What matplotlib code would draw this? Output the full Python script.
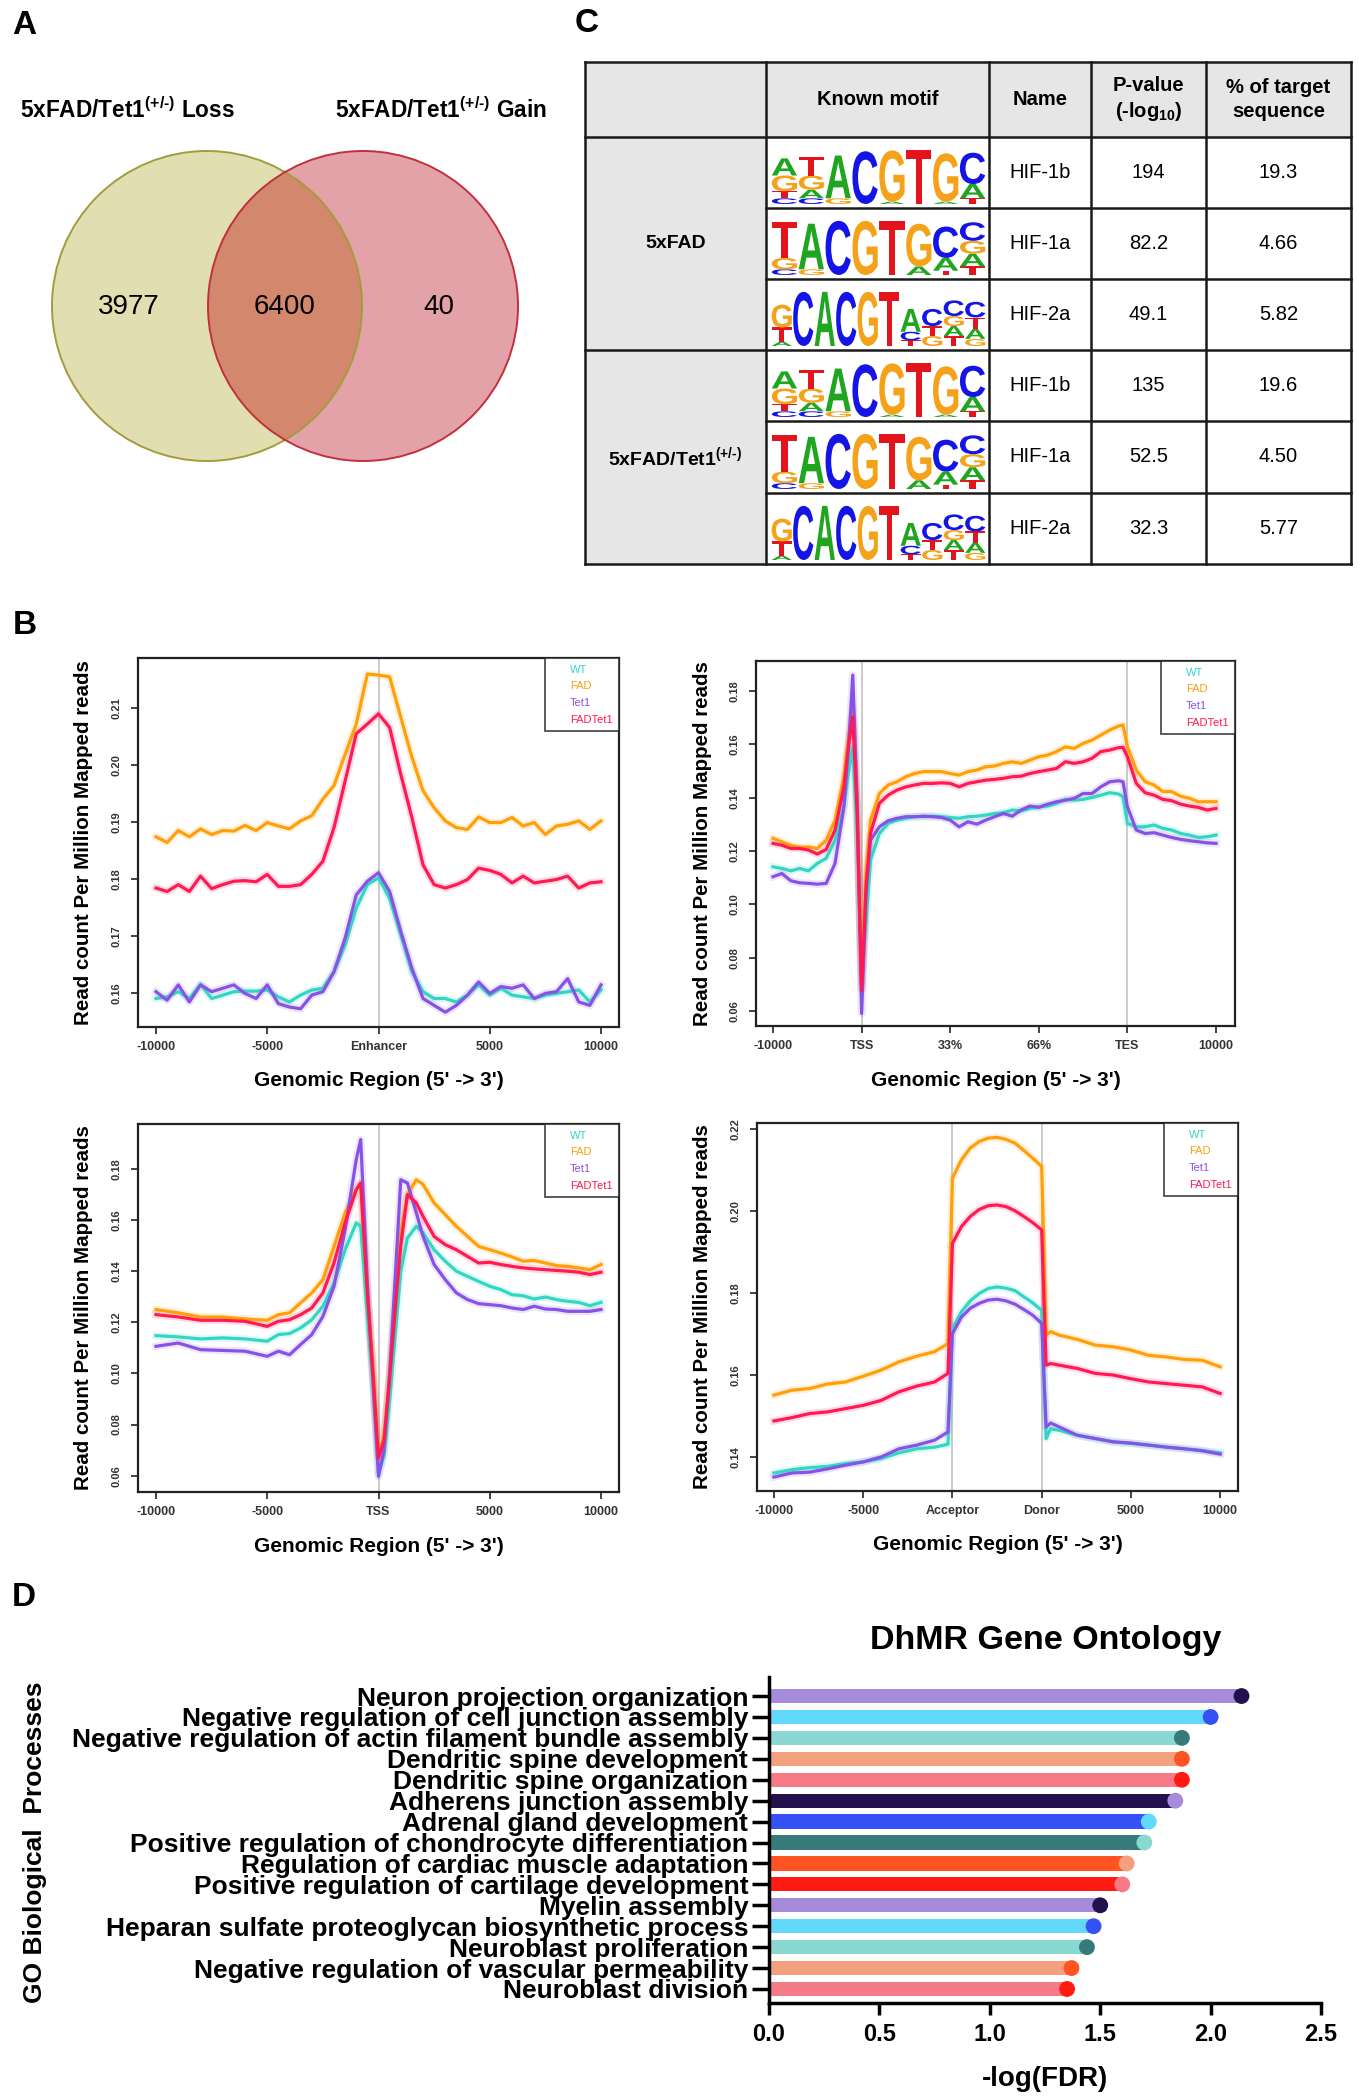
import matplotlib
matplotlib.use('Agg')
import matplotlib.pyplot as plt
from matplotlib.patches import Circle, Rectangle, PathPatch
from matplotlib.textpath import TextPath
from matplotlib.font_manager import FontProperties
from matplotlib.transforms import Affine2D, offset_copy
from matplotlib.lines import Line2D

plt.rcParams['font.family'] = ['Liberation Sans', 'DejaVu Sans']
plt.rcParams['mathtext.fontset'] = 'custom'
plt.rcParams['mathtext.rm'] = 'Liberation Sans'
plt.rcParams['mathtext.bf'] = 'Liberation Sans:bold'
plt.rcParams['mathtext.default'] = 'regular'

# ---------------- data ----------------
VENN_TITLES = ['5xFAD/Tet1$^{(+/\u2010)}$ Loss', '5xFAD/Tet1$^{(+/\u2010)}$ Gain']
VENN_COUNTS = ['3977', '6400', '40']

TABLE_HEADER = ['', 'Known motif', 'Name', 'P-value\n(-log$_{10}$)', '% of target\nsequence']
TABLE_GROUPS = ['5xFAD', '5xFAD/Tet1$^{(+/\u2010)}$']
TABLE_NAMES = ['HIF-1b', 'HIF-1a', 'HIF-2a', 'HIF-1b', 'HIF-1a', 'HIF-2a']
TABLE_PVALUES = ['194', '82.2', '49.1', '135', '52.5', '32.3']
TABLE_PCT = ['19.3', '4.66', '5.82', '19.6', '4.50', '5.77']

LOGO_HIF1B = [
    [('C', 0.20), ('T', 0.25), ('G', 0.55), ('A', 0.60)],
    [('C', 0.20), ('A', 0.30), ('G', 0.50), ('T', 0.65)],
    [('G', 0.20), ('A', 1.50)],
    [('C', 1.85)],
    [('A', 0.08), ('G', 1.80)],
    [('T', 1.90)],
    [('A', 0.08), ('G', 1.70)],
    [('T', 0.20), ('A', 0.50), ('C', 1.10)],
]
LOGO_HIF1A = [
    [('C', 0.20), ('G', 0.40), ('T', 1.25)],
    [('G', 0.20), ('A', 1.60)],
    [('C', 1.90)],
    [('G', 1.90)],
    [('T', 1.90)],
    [('A', 0.30), ('G', 1.50)],
    [('T', 0.15), ('A', 0.45), ('C', 1.10)],
    [('T', 0.30), ('A', 0.45), ('G', 0.45), ('C', 0.65)],
]
LOGO_HIF2A = [
    [('A', 0.15), ('T', 0.50), ('G', 0.80)],
    [('C', 1.90)],
    [('A', 1.90)],
    [('C', 1.90)],
    [('G', 1.90)],
    [('T', 1.90)],
    [('T', 0.20), ('C', 0.30), ('A', 0.80)],
    [('G', 0.35), ('T', 0.35), ('C', 0.60)],
    [('T', 0.35), ('A', 0.35), ('G', 0.35), ('C', 0.55)],
    [('G', 0.25), ('A', 0.35), ('T', 0.40), ('C', 0.55)],
]
TABLE_LOGOS = [LOGO_HIF1B, LOGO_HIF1A, LOGO_HIF2A, LOGO_HIF1B, LOGO_HIF1A, LOGO_HIF2A]

SERIES_NAMES = ['WT', 'FAD', 'Tet1', 'FADTet1']

# Enhancer profile
ENH_X = [-10000, -9500, -9000, -8500, -8000, -7500, -7000, -6500, -6000, -5500, -5000,
         -4500, -4000, -3500, -3000, -2500, -2000, -1500, -1000, -500, 0,
         500, 1000, 1500, 2000, 2500, 3000, 3500, 4000, 4500, 5000,
         5500, 6000, 6500, 7000, 7500, 8000, 8500, 9000, 9500, 10000]
ENH_WT = [0.1590, 0.1593, 0.1602, 0.1590, 0.1615, 0.1590, 0.1596, 0.1602, 0.1603, 0.1603, 0.1605,
          0.1593, 0.1584, 0.1596, 0.1605, 0.1608, 0.1637, 0.1684, 0.1749, 0.1790, 0.1802,
          0.1766, 0.1702, 0.1637, 0.1602, 0.1590, 0.1590, 0.1584, 0.1596, 0.1614, 0.1596,
          0.1608, 0.1596, 0.1593, 0.1590, 0.1596, 0.1599, 0.1602, 0.1605, 0.1584, 0.1605]
ENH_FAD = [0.1874, 0.1864, 0.1885, 0.1874, 0.1888, 0.1878, 0.1885, 0.1884, 0.1894, 0.1885, 0.1899,
           0.1893, 0.1888, 0.1902, 0.1911, 0.1940, 0.1964, 0.2019, 0.2072, 0.2160, 0.2158,
           0.2155, 0.2084, 0.2014, 0.1955, 0.1925, 0.1902, 0.1890, 0.1887, 0.1909, 0.1899,
           0.1899, 0.1908, 0.1893, 0.1899, 0.1878, 0.1893, 0.1896, 0.1902, 0.1887, 0.1902]
ENH_TET1 = [0.1602, 0.1587, 0.1614, 0.1584, 0.1614, 0.1602, 0.1608, 0.1614, 0.1599, 0.1590, 0.1614,
            0.1581, 0.1575, 0.1572, 0.1596, 0.1602, 0.1637, 0.1696, 0.1772, 0.1796, 0.1811,
            0.1778, 0.1708, 0.1643, 0.1590, 0.1578, 0.1566, 0.1578, 0.1596, 0.1619, 0.1599,
            0.1611, 0.1608, 0.1614, 0.1590, 0.1599, 0.1602, 0.1625, 0.1584, 0.1578, 0.1614]
ENH_FADTET1 = [0.1784, 0.1778, 0.1790, 0.1778, 0.1805, 0.1783, 0.1790, 0.1796, 0.1797, 0.1795, 0.1808,
               0.1787, 0.1787, 0.1790, 0.1808, 0.1831, 0.1890, 0.1972, 0.2055, 0.2072, 0.2090,
               0.2066, 0.1984, 0.1908, 0.1825, 0.1790, 0.1784, 0.1790, 0.1799, 0.1819, 0.1815,
               0.1808, 0.1793, 0.1805, 0.1793, 0.1796, 0.1799, 0.1805, 0.1784, 0.1793, 0.1795]

# Gene body profile (0=-10000, 1=TSS, 2=33%, 3=66%, 4=TES, 5=+10000)
GENE_X = [0, 0.1, 0.2, 0.3, 0.4, 0.5, 0.6, 0.7, 0.8, 0.85, 0.9, 0.95, 1.0, 1.05,
          1.1, 1.2, 1.3, 1.4, 1.5, 1.6, 1.7, 1.8, 1.9, 2.0, 2.1, 2.2, 2.3, 2.4, 2.5,
          2.6, 2.7, 2.8, 2.9, 3.0, 3.1, 3.2, 3.3, 3.4, 3.5, 3.6, 3.7, 3.8, 3.9, 3.95,
          4.0, 4.1, 4.2, 4.3, 4.4, 4.5, 4.6, 4.7, 4.8, 4.9, 5.0]
GENE_WT = [0.1141, 0.1135, 0.1126, 0.1135, 0.1126, 0.1154, 0.1173, 0.1241, 0.1366, 0.1491, 0.1591, 0.1266, 0.0704, 0.0941,
           0.1166, 0.1266, 0.1304, 0.1316, 0.1323, 0.1329, 0.1329, 0.1331, 0.1329, 0.1326, 0.1323, 0.1329, 0.1331, 0.1335, 0.1341,
           0.1344, 0.1354, 0.1351, 0.1360, 0.1366, 0.1369, 0.1379, 0.1394, 0.1391, 0.1394, 0.1401, 0.1410, 0.1419, 0.1414, 0.1404,
           0.1304, 0.1291, 0.1291, 0.1298, 0.1285, 0.1279, 0.1266, 0.1260, 0.1251, 0.1254, 0.1260]
GENE_FAD = [0.1248, 0.1235, 0.1222, 0.1214, 0.1216, 0.1210, 0.1241, 0.1316, 0.1479, 0.1616, 0.1741, 0.1391, 0.0750, 0.1116,
            0.1316, 0.1416, 0.1448, 0.1460, 0.1479, 0.1491, 0.1498, 0.1498, 0.1498, 0.1491, 0.1485, 0.1498, 0.1504, 0.1516, 0.1519,
            0.1529, 0.1535, 0.1529, 0.1541, 0.1554, 0.1560, 0.1573, 0.1591, 0.1585, 0.1604, 0.1616, 0.1635, 0.1654, 0.1669, 0.1673,
            0.1591, 0.1504, 0.1460, 0.1448, 0.1423, 0.1423, 0.1406, 0.1398, 0.1385, 0.1385, 0.1385]
GENE_TET1 = [0.1104, 0.1116, 0.1089, 0.1081, 0.1079, 0.1076, 0.1079, 0.1154, 0.1366, 0.1579, 0.1860, 0.1391, 0.0591, 0.1041,
             0.1241, 0.1291, 0.1314, 0.1323, 0.1329, 0.1329, 0.1331, 0.1329, 0.1326, 0.1316, 0.1291, 0.1310, 0.1301, 0.1316, 0.1329,
             0.1341, 0.1331, 0.1354, 0.1369, 0.1364, 0.1376, 0.1385, 0.1391, 0.1398, 0.1416, 0.1416, 0.1441, 0.1460, 0.1464, 0.1460,
             0.1366, 0.1279, 0.1266, 0.1269, 0.1260, 0.1251, 0.1244, 0.1239, 0.1235, 0.1231, 0.1229]
GENE_FADTET1 = [0.1229, 0.1222, 0.1210, 0.1210, 0.1204, 0.1189, 0.1206, 0.1279, 0.1441, 0.1591, 0.1704, 0.1341, 0.0679, 0.1066,
                0.1266, 0.1379, 0.1410, 0.1429, 0.1441, 0.1448, 0.1454, 0.1454, 0.1456, 0.1454, 0.1441, 0.1454, 0.1460, 0.1466, 0.1469,
                0.1473, 0.1479, 0.1481, 0.1491, 0.1498, 0.1504, 0.1510, 0.1535, 0.1529, 0.1535, 0.1548, 0.1573, 0.1579, 0.1588, 0.1589,
                0.1554, 0.1454, 0.1419, 0.1410, 0.1394, 0.1389, 0.1376, 0.1369, 0.1364, 0.1354, 0.1360]

# TSS profile
TSS_X = [-10000, -9000, -8000, -7000, -6000, -5000, -4500, -4000, -3500, -3000, -2500, -2000, -1500,
         -1000, -800, -500, -250, 0, 250, 500, 800, 1000, 1300, 1700, 2000, 2500, 3000, 3500, 4000,
         4500, 5000, 5500, 6000, 6500, 7000, 7500, 8000, 8500, 9000, 9500, 10000]
TSS_WT = [0.1148, 0.1143, 0.1135, 0.1139, 0.1135, 0.1126, 0.1152, 0.1156, 0.1178, 0.1210, 0.1263, 0.1354, 0.1484,
          0.1589, 0.1576, 0.1230, 0.0950, 0.0610, 0.0680, 0.0900, 0.1200, 0.1400, 0.1530, 0.1576, 0.1550, 0.1484, 0.1439, 0.1400, 0.1380,
          0.1360, 0.1341, 0.1328, 0.1308, 0.1304, 0.1291, 0.1299, 0.1289, 0.1282, 0.1278, 0.1265, 0.1278]
TSS_FAD = [0.1250, 0.1237, 0.1221, 0.1221, 0.1213, 0.1208, 0.1230, 0.1237, 0.1276, 0.1315, 0.1367, 0.1497, 0.1628,
           0.1720, 0.1745, 0.1320, 0.1040, 0.0676, 0.0760, 0.1000, 0.1350, 0.1550, 0.1700, 0.1758, 0.1740, 0.1667, 0.1621, 0.1576, 0.1536,
           0.1497, 0.1484, 0.1471, 0.1456, 0.1439, 0.1442, 0.1432, 0.1422, 0.1419, 0.1413, 0.1406, 0.1426]
TSS_TET1 = [0.1106, 0.1119, 0.1093, 0.1090, 0.1087, 0.1067, 0.1087, 0.1073, 0.1113, 0.1152, 0.1223, 0.1341, 0.1563,
            0.1837, 0.1915, 0.1350, 0.0980, 0.0597, 0.0700, 0.1000, 0.1450, 0.1758, 0.1745, 0.1628, 0.1537, 0.1426, 0.1367, 0.1315, 0.1289,
            0.1273, 0.1269, 0.1265, 0.1256, 0.1250, 0.1263, 0.1252, 0.1250, 0.1243, 0.1243, 0.1243, 0.1250]
TSS_FADTET1 = [0.1230, 0.1221, 0.1208, 0.1208, 0.1204, 0.1184, 0.1204, 0.1210, 0.1230, 0.1256, 0.1315, 0.1432, 0.1589,
               0.1719, 0.1745, 0.1310, 0.1000, 0.0669, 0.0740, 0.0980, 0.1300, 0.1500, 0.1700, 0.1667, 0.1615, 0.1536, 0.1504, 0.1484, 0.1458,
               0.1432, 0.1435, 0.1426, 0.1419, 0.1413, 0.1409, 0.1406, 0.1403, 0.1400, 0.1396, 0.1387, 0.1396]

# Exon profile (0=-10000, 1=-5000, 2=Acceptor, 3=Donor, 4=5000, 5=10000)
EXON_X = [0, 0.2, 0.4, 0.6, 0.8, 1.0, 1.2, 1.4, 1.6, 1.8, 1.95, 2.0, 2.1, 2.2, 2.3, 2.4, 2.5, 2.6, 2.7,
          2.8, 2.9, 3.0, 3.05, 3.1, 3.2, 3.4, 3.6, 3.8, 4.0, 4.2, 4.4, 4.6, 4.8, 5.0]
EXON_WT = [0.1361, 0.1369, 0.1374, 0.1377, 0.1384, 0.1388, 0.1396, 0.1410, 0.1420, 0.1424, 0.1431, 0.1714, 0.1754, 0.1781,
           0.1799, 0.1811, 0.1815, 0.1812, 0.1806, 0.1791, 0.1776, 0.1758, 0.1445, 0.1469, 0.1465, 0.1453, 0.1445, 0.1437,
           0.1433, 0.1429, 0.1424, 0.1420, 0.1416, 0.1410]
EXON_FAD = [0.1551, 0.1563, 0.1567, 0.1578, 0.1583, 0.1597, 0.1612, 0.1632, 0.1646, 0.1657, 0.1677, 0.2080, 0.2125, 0.2154,
            0.2170, 0.2178, 0.2180, 0.2175, 0.2166, 0.2148, 0.2129, 0.2109, 0.1697, 0.1706, 0.1697, 0.1687, 0.1673, 0.1669,
            0.1661, 0.1648, 0.1644, 0.1638, 0.1636, 0.1620]
EXON_TET1 = [0.1351, 0.1361, 0.1363, 0.1371, 0.1380, 0.1388, 0.1400, 0.1420, 0.1429, 0.1441, 0.1461, 0.1701, 0.1741, 0.1763,
             0.1775, 0.1783, 0.1785, 0.1781, 0.1773, 0.1760, 0.1746, 0.1726, 0.1473, 0.1483, 0.1473, 0.1453, 0.1445, 0.1437,
             0.1434, 0.1429, 0.1424, 0.1420, 0.1415, 0.1407]
EXON_FADTET1 = [0.1488, 0.1496, 0.1506, 0.1510, 0.1518, 0.1526, 0.1538, 0.1559, 0.1573, 0.1583, 0.1604, 0.1921, 0.1962, 0.1987,
                0.2004, 0.2013, 0.2015, 0.2011, 0.2001, 0.1987, 0.1972, 0.1954, 0.1624, 0.1628, 0.1624, 0.1616, 0.1604, 0.1600,
                0.1591, 0.1583, 0.1579, 0.1575, 0.1571, 0.1555]

GO_TERMS = ['Neuron projection organization',
            'Negative regulation of cell junction assembly',
            'Negative regulation of actin filament bundle assembly',
            'Dendritic spine development',
            'Dendritic spine organization',
            'Adherens junction assembly',
            'Adrenal gland development',
            'Positive regulation of chondrocyte differentiation',
            'Regulation of cardiac muscle adaptation',
            'Positive regulation of cartilage development',
            'Myelin assembly',
            'Heparan sulfate proteoglycan biosynthetic process',
            'Neuroblast proliferation',
            'Negative regulation of vascular permeability',
            'Neuroblast division']
GO_VALUES = [2.14, 2.00, 1.87, 1.87, 1.87, 1.84, 1.72, 1.70, 1.62, 1.60, 1.50, 1.47, 1.44, 1.37, 1.35]
GO_BAR_COLORS = ['#a78bdb', '#62d8fa', '#8ad8d2', '#f2a07e', '#f67b86',
                 '#23104f', '#3550f5', '#377a7a', '#ff5322', '#ff1b12',
                 '#a78bdb', '#62d8fa', '#8ad8d2', '#f2a07e', '#f67b86']
GO_DOT_COLORS = ['#23104f', '#3550f5', '#377a7a', '#ff5322', '#ff1b12',
                 '#a78bdb', '#62d8fa', '#8ad8d2', '#f2a07e', '#f67b86',
                 '#23104f', '#3550f5', '#377a7a', '#ff5322', '#ff1b12']

# ---------------- styles ----------------
SERIES_COLORS = ['#33d6c3', '#ff9f0a', '#8653e6', '#ff1a53']
LOGO_COLORS = {'A': '#1fa51f', 'C': '#1414e6', 'G': '#f5a21b', 'T': '#e3141b'}
LOGO_FONT = FontProperties(family='Liberation Sans', weight='bold')

W, H = 1358, 2100
fig = plt.figure(figsize=(W / 100, H / 100), dpi=100)
fig.patch.set_facecolor('white')


def add_axes_px(x0, y0, x1, y1):
    return fig.add_axes([x0 / W, 1 - y1 / H, (x1 - x0) / W, (y1 - y0) / H])


ax0 = fig.add_axes([0, 0, 1, 1])
ax0.set_xlim(0, W)
ax0.set_ylim(H, 0)
ax0.axis('off')

# panel letters
for letter, (px, py) in zip('ACBD', [(24, 25), (587, 23), (25, 626), (24, 1598)]):
    ax0.text(px, py, letter, fontsize=24, fontweight='bold', ha='center', va='center')

# ---------------- Panel A: Venn ----------------
left_c = Circle((207, 306), 155, fc='#e1deb1', ec='none', zorder=1)
right_c = Circle((363, 306), 155, fc='#e3a1a8', ec='none', zorder=1)
ax0.add_patch(left_c)
ax0.add_patch(right_c)
inter = Circle((363, 306), 155, fc='#d3886e', ec='none', zorder=2)
ax0.add_patch(inter)
inter.set_clip_path(left_c)
ax0.add_patch(Circle((207, 306), 155, fill=False, ec='#a39c3c', lw=1.4, zorder=3))
ax0.add_patch(Circle((363, 306), 155, fill=False, ec='#c2303e', lw=1.4, zorder=3))
ax0.text(20, 110, VENN_TITLES[0], fontsize=16.3, fontweight='bold', ha='left', va='center')
ax0.text(335, 110, VENN_TITLES[1], fontsize=16.3, fontweight='bold', ha='left', va='center')
for txt, px in zip(VENN_COUNTS, [129, 285, 439]):
    ax0.text(px, 307, txt, fontsize=20, ha='center', va='center', zorder=4)

# ---------------- Panel C: table ----------------
COLS = [585, 766, 989, 1091, 1206, 1351]
ROWS = [62, 137, 208, 279, 350, 421, 493, 564]
GRAY = '#e6e6e6'
ax0.add_patch(Rectangle((COLS[0], ROWS[0]), COLS[-1] - COLS[0], ROWS[1] - ROWS[0], fc=GRAY, ec='none'))
ax0.add_patch(Rectangle((COLS[0], ROWS[1]), COLS[1] - COLS[0], ROWS[-1] - ROWS[1], fc=GRAY, ec='none'))
LC = '#1a1a1a'
for xc in COLS:
    ax0.plot([xc, xc], [ROWS[0], ROWS[-1]], color=LC, lw=1.8, solid_capstyle='projecting')
for i, yr in enumerate(ROWS):
    x_start = COLS[0] if i in (0, 1, 4, 7) else COLS[1]
    ax0.plot([x_start, COLS[-1]], [yr, yr], color=LC, lw=1.8, solid_capstyle='projecting')

hy = (ROWS[0] + ROWS[1]) / 2
for j in range(1, 5):
    ax0.text((COLS[j] + COLS[j + 1]) / 2, hy, TABLE_HEADER[j], fontsize=14.5, fontweight='bold',
             ha='center', va='center', linespacing=1.3)
ax0.text((COLS[0] + COLS[1]) / 2, (ROWS[1] + ROWS[4]) / 2, TABLE_GROUPS[0], fontsize=14,
         fontweight='bold', ha='center', va='center')
ax0.text((COLS[0] + COLS[1]) / 2, (ROWS[4] + ROWS[7]) / 2, TABLE_GROUPS[1], fontsize=14,
         fontweight='bold', ha='center', va='center')
for r in range(6):
    cy = (ROWS[r + 1] + ROWS[r + 2]) / 2
    ax0.text((COLS[2] + COLS[3]) / 2, cy, TABLE_NAMES[r], fontsize=14.5, ha='center', va='center')
    ax0.text((COLS[3] + COLS[4]) / 2, cy, TABLE_PVALUES[r], fontsize=14.5, ha='center', va='center')
    ax0.text((COLS[4] + COLS[5]) / 2, cy, TABLE_PCT[r], fontsize=14.5, ha='center', va='center')


def draw_logo(ax, columns):
    n = len(columns)
    ax.set_xlim(0, n)
    ax.set_ylim(0, 2)
    ax.axis('off')
    for i, col in enumerate(columns):
        y = 0.0
        for letter, h in col:
            tp = TextPath((0, 0), letter, size=1, prop=LOGO_FONT)
            bb = tp.get_extents()
            t = (Affine2D().translate(-bb.x0, -bb.y0)
                 .scale(0.94 / bb.width, h / bb.height)
                 .translate(i + 0.03, y))
            ax.add_patch(PathPatch(t.transform_path(tp), fc=LOGO_COLORS[letter], ec='none'))
            y += h


for r in range(6):
    top = ROWS[r + 1] + 10
    bot = ROWS[r + 2] - 4
    lax = add_axes_px(771, top, 986, bot)
    draw_logo(lax, TABLE_LOGOS[r])

# ---------------- Panel B: profiles ----------------


def profile(box, x, ys, xlim, xticks, xticklabels, vlines, ylim, yticks):
    ax = add_axes_px(*box)
    for v in vlines:
        ax.axvline(v, color='#c8c8c8', lw=1.3, zorder=1)
    for y, c in zip(ys, SERIES_COLORS):
        ax.plot(x, y, color=c, lw=5.5, alpha=0.15, zorder=2)
        ax.plot(x, y, color=c, lw=2.3, zorder=3)
    ax.set_xlim(*xlim)
    ax.set_ylim(*ylim)
    ax.set_xticks(xticks)
    ax.set_xticklabels(xticklabels)
    ax.set_yticks(yticks)
    ax.set_yticklabels(['%.2f' % t for t in yticks])
    ax.tick_params(axis='both', direction='out', length=5, width=1.2, color='#222',
                   labelcolor='#333')
    ax.tick_params(axis='x', pad=5, labelsize=9)
    ax.tick_params(axis='y', labelrotation=90, pad=7, labelsize=8)
    for lab in ax.get_xticklabels() + ax.get_yticklabels():
        lab.set_fontweight('bold')
    for lab in ax.get_yticklabels():
        lab.set_va('center')
    for s in ax.spines.values():
        s.set_linewidth(1.6)
        s.set_color('#222')
    handles = [Line2D([], [], color='none') for _ in SERIES_NAMES]
    leg = ax.legend(handles, SERIES_NAMES, loc='upper right', frameon=True, fancybox=False,
                    edgecolor='#222', borderaxespad=0, handlelength=1.4, handletextpad=0.25,
                    labelspacing=0.6, borderpad=0.6, fontsize=8, labelcolor=SERIES_COLORS)
    leg.get_frame().set_linewidth(1.3)
    ax.text(0.5, 0, "Genomic Region (5' -> 3')",
            transform=offset_copy(ax.transAxes, fig, x=0, y=-54, units='dots'),
            ha='center', va='center', fontsize=15, fontweight='bold')
    ax.text(0, 0.5, 'Read count Per Million Mapped reads',
            transform=offset_copy(ax.transAxes, fig, x=-54, y=0, units='dots'),
            ha='center', va='center', rotation=90, fontsize=14.8, fontweight='bold')
    return ax


profile((138, 658, 619, 1027), ENH_X, [ENH_WT, ENH_FAD, ENH_TET1, ENH_FADTET1],
        (-10809, 10809), [-10000, -5000, 0, 5000, 10000],
        ['-10000', '-5000', 'Enhancer', '5000', '10000'], [0],
        (0.1540, 0.2188), [0.16, 0.17, 0.18, 0.19, 0.20, 0.21])
profile((756, 661, 1235, 1026), GENE_X, [GENE_WT, GENE_FAD, GENE_TET1, GENE_FADTET1],
        (-0.192, 5.214), [0, 1, 2, 3, 4, 5],
        ['-10000', 'TSS', '33%', '66%', 'TES', '10000'], [1, 4],
        (0.0544, 0.1913), [0.06, 0.08, 0.10, 0.12, 0.14, 0.16, 0.18])
profile((138, 1124, 619, 1492), TSS_X, [TSS_WT, TSS_FAD, TSS_TET1, TSS_FADTET1],
        (-10809, 10809), [-10000, -5000, 0, 5000, 10000],
        ['-10000', '-5000', 'TSS', '5000', '10000'], [0],
        (0.0536, 0.1976), [0.06, 0.08, 0.10, 0.12, 0.14, 0.16, 0.18])
profile((757, 1123, 1238, 1491), EXON_X, [EXON_WT, EXON_FAD, EXON_TET1, EXON_FADTET1],
        (-0.19, 5.20), [0, 1, 2, 3, 4, 5],
        ['-10000', '-5000', 'Acceptor', 'Donor', '5000', '10000'], [2, 3],
        (0.1317, 0.2215), [0.14, 0.16, 0.18, 0.20, 0.22])

# ---------------- Panel D: GO bars ----------------
axg = add_axes_px(769, 1677, 1321, 2003)
ypos = list(range(len(GO_TERMS)))
axg.barh(ypos, GO_VALUES, height=0.68, color=GO_BAR_COLORS, zorder=2)
axg.scatter(GO_VALUES, ypos, s=130, c=GO_DOT_COLORS, zorder=3, linewidths=0)
axg.set_xlim(0, 2.5)
axg.set_ylim(14.67, -0.91)
axg.set_yticks(ypos)
axg.set_yticklabels(GO_TERMS, fontsize=19, fontweight='bold')
axg.set_xticks([0, 0.5, 1.0, 1.5, 2.0, 2.5])
axg.set_xticklabels(['0.0', '0.5', '1.0', '1.5', '2.0', '2.5'], fontsize=17, fontweight='bold')
axg.tick_params(axis='y', length=12, width=2.5, pad=3)
axg.tick_params(axis='x', length=8.5, width=2.5, pad=6)
for side in ('top', 'right'):
    axg.spines[side].set_visible(False)
for side in ('left', 'bottom'):
    axg.spines[side].set_linewidth(2.5)
axg.text(0.5, 0, '-log(FDR)', transform=offset_copy(axg.transAxes, fig, x=0, y=-76, units='dots'),
         ha='center', va='center', fontsize=20, fontweight='bold')
ax0.text(1046, 1640, 'DhMR Gene Ontology', fontsize=24.5, fontweight='bold', ha='center', va='center')
ax0.text(35, 1842, 'GO Biological  Processes', fontsize=19, fontweight='bold', rotation=90,
         ha='center', va='center')

fig.savefig('out.png', dpi=100)
